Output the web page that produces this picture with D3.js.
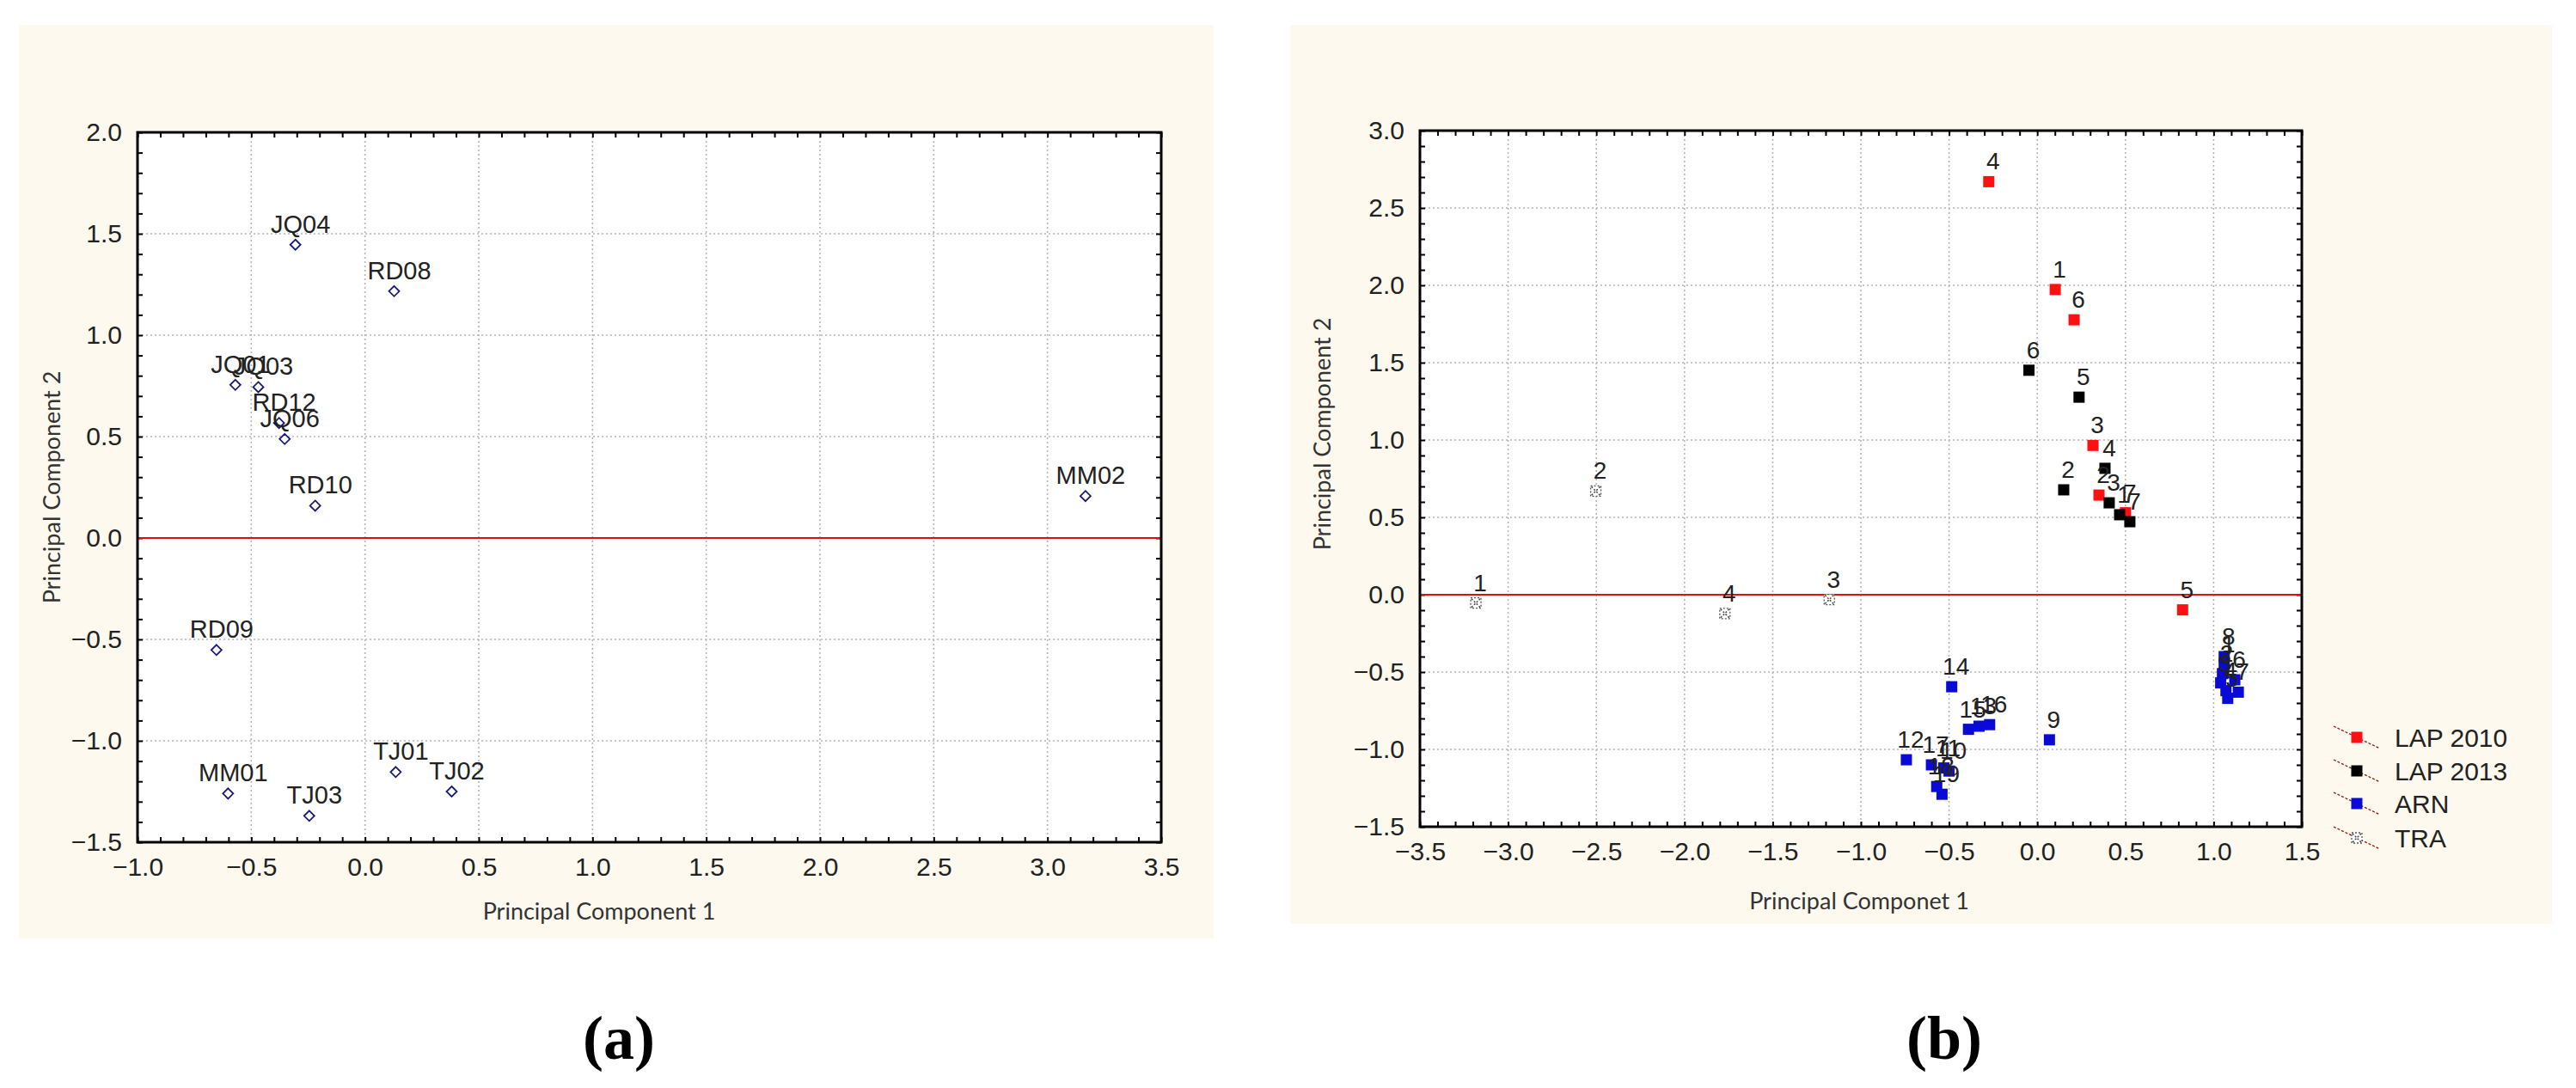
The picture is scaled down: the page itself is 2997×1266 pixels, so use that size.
<!DOCTYPE html>
<html><head><meta charset="utf-8">
<script src="https://cdn.jsdelivr.net/npm/d3@7"></script>
<style>body{margin:0;background:#fff}svg{display:block}</style>
</head><body>
<svg id="c" width="2997" height="1266"></svg>
<script>
// Panel (a)
const aNames = ["JQ04","RD08","JQ01","JQ03","RD12","JQ06","RD10","MM02","RD09","MM01","TJ03","TJ01","TJ02"];
const aPC1 = [-0.306,0.128,-0.570,-0.469,-0.378,-0.353,-0.219,3.167,-0.653,-0.602,-0.245,0.135,0.381];
const aPC2 = [1.446,1.217,0.755,0.744,0.567,0.488,0.159,0.207,-0.552,-1.260,-1.370,-1.154,-1.250];
const aXTicks = [-1.0,-0.5,0.0,0.5,1.0,1.5,2.0,2.5,3.0,3.5];
const aYTicks = [-1.5,-1.0,-0.5,0.0,0.5,1.0,1.5,2.0];

// Panel (b)
const bSeries = ["LAP 2010","LAP 2013","ARN","TRA"];
const lap2010Labels = ["1","2","3","4","5","6","7"];
const lap2010PC1 = [0.102,0.350,0.316,-0.275,0.824,0.209,0.500];
const lap2010PC2 = [1.973,0.644,0.965,2.670,-0.098,1.777,0.530];
const lap2013Labels = ["1","2","3","4","5","6","7"];
const lap2013PC1 = [0.467,0.150,0.408,0.384,0.237,-0.047,0.525];
const lap2013PC2 = [0.517,0.678,0.594,0.817,1.277,1.451,0.472];
const arnLabels = ["1","2","3","4","5","6","7","8","9","10","11","12","13","14","15","16","17","18","19"];
const arnPC1 = [1.06,1.05,1.04,1.07,1.08,1.12,1.14,1.06,0.069,-0.50,-0.53,-0.742,-0.33,-0.485,-0.39,-0.27,-0.60,-0.57,-0.54];
const arnPC2 = [-0.45,-0.51,-0.57,-0.62,-0.67,-0.55,-0.63,-0.40,-0.938,-1.14,-1.12,-1.067,-0.85,-0.595,-0.87,-0.84,-1.10,-1.24,-1.29];
const traLabels = ["1","2","3","4"];
const traPC1 = [-3.183,-2.503,-1.179,-1.771];
const traPC2 = [-0.054,0.670,-0.031,-0.121];
const bXTicks = [-3.5,-3.0,-2.5,-2.0,-1.5,-1.0,-0.5,0.0,0.5,1.0,1.5];
const bYTicks = [-1.5,-1.0,-0.5,0.0,0.5,1.0,1.5,2.0,2.5,3.0];

const svg = d3.select("#c");
const CREAM = "#fdf9ee";
const TXT = "#222";

function panel(o){
  const g = svg.append("g");
  g.append("rect").attr("x",o.frame[0]).attr("y",o.frame[1]).attr("width",o.frame[2]-o.frame[0]).attr("height",o.frame[3]-o.frame[1]).attr("fill",CREAM);
  const x = d3.scaleLinear().domain(o.xd).range([o.plot[0],o.plot[2]]);
  const y = d3.scaleLinear().domain(o.yd).range([o.plot[3],o.plot[1]]);
  g.append("rect").attr("x",o.plot[0]).attr("y",o.plot[1]).attr("width",o.plot[2]-o.plot[0]).attr("height",o.plot[3]-o.plot[1]).attr("fill","#fff");
  g.selectAll(null).data(o.xt).join("line").attr("x1",d=>x(d)).attr("x2",d=>x(d)).attr("y1",o.plot[1]).attr("y2",o.plot[3])
    .attr("stroke","#b5b5b5").attr("stroke-width",1.6).attr("stroke-dasharray","2,3");
  g.selectAll(null).data(o.yt).join("line").attr("y1",d=>y(d)).attr("y2",d=>y(d)).attr("x1",o.plot[0]).attr("x2",o.plot[2])
    .attr("stroke","#b5b5b5").attr("stroke-width",1.6).attr("stroke-dasharray","2,3");
  const minorX = d3.range(Math.round(o.xd[0]*10), Math.round(o.xd[1]*10)+1).map(v=>v/10);
  const minorY = d3.range(Math.round(o.yd[0]*10), Math.round(o.yd[1]*10)+1).map(v=>v/10);
  const fmt = d3.format(".1f");
  const tk = (ax)=>ax.tickSizeInner(-6).tickSizeOuter(0).tickPadding(18);
  const styleAx = sel=>{sel.select(".domain").remove();sel.selectAll("line").attr("stroke","#000").attr("stroke-width",2);
    sel.selectAll("text").attr("font-family","Liberation Sans, Arial, sans-serif").attr("font-size",30).attr("fill",TXT);};
  g.append("g").attr("transform",`translate(0,${o.plot[3]})`).call(tk(d3.axisBottom(x).tickValues(minorX).tickFormat(d=>o.xt.some(t=>Math.abs(t-d)<1e-9)?fmt(d):""))).call(styleAx);
  g.append("g").attr("transform",`translate(0,${o.plot[1]})`).call(tk(d3.axisTop(x).tickValues(minorX).tickFormat(""))).call(styleAx);
  g.append("g").attr("transform",`translate(${o.plot[0]},0)`).call(tk(d3.axisLeft(y).tickValues(minorY).tickFormat(d=>o.yt.some(t=>Math.abs(t-d)<1e-9)?fmt(d):""))).call(styleAx);
  g.append("g").attr("transform",`translate(${o.plot[2]},0)`).call(tk(d3.axisRight(y).tickValues(minorY).tickFormat(""))).call(styleAx);
  g.append("line").attr("x1",o.plot[0]).attr("x2",o.plot[2]).attr("y1",y(0)).attr("y2",y(0)).attr("stroke","#e01010").attr("stroke-width",2);
  g.append("rect").attr("x",o.plot[0]).attr("y",o.plot[1]).attr("width",o.plot[2]-o.plot[0]).attr("height",o.plot[3]-o.plot[1]).attr("fill","none").attr("stroke","#000").attr("stroke-width",3);
  g.append("text").attr("x",o.xtitle[0]).attr("y",o.xtitle[1]).attr("text-anchor","middle").attr("font-family","Lato, Open Sans, sans-serif").attr("font-size",27).attr("fill","#333").text(o.xlab);
  g.append("text").attr("transform",`translate(${o.ytitle[0]},${o.ytitle[1]}) rotate(-90)`).attr("text-anchor","middle").attr("font-family","Lato, Open Sans, sans-serif").attr("font-size",27).attr("fill","#333").text(o.ylab);
  g.append("text").attr("x",o.tag[0]).attr("y",o.tag[1]).attr("text-anchor","middle").attr("font-family","Liberation Serif, serif").attr("font-weight","bold").attr("font-size",72).attr("fill","#000").text(o.tagText);
  return {g,x,y};
}

const A = panel({frame:[22,29,1412,1092],plot:[160,154,1351,980],xd:[-1,3.5],yd:[-1.5,2],xt:aXTicks,yt:aYTicks,
  xlab:"Principal Component 1",ylab:"Principal Component 2",xtitle:[697,1070],ytitle:[70,567],tag:[720,1232],tagText:"(a)"});
const aData = aNames.map((n,i)=>({n,x:aPC1[i],y:aPC2[i]}));
A.g.selectAll(null).data(aData).join("path").attr("d",d=>{const cx=A.x(d.x),cy=A.y(d.y),r=6;return `M${cx},${cy-r}L${cx+r},${cy}L${cx},${cy+r}L${cx-r},${cy}Z`;})
  .attr("fill","#fff").attr("stroke","#1a1a7a").attr("stroke-width",1.8);
A.g.selectAll(null).data(aData).join("text").attr("x",d=>A.x(d.x)+6).attr("y",d=>A.y(d.y)-14).attr("text-anchor","middle")
  .attr("font-family","Liberation Sans, Arial, sans-serif").attr("font-size",29).attr("fill",TXT).text(d=>d.n);

const B = panel({frame:[1501,29,2969,1075],plot:[1652,152,2678,962],xd:[-3.5,1.5],yd:[-1.5,3],xt:bXTicks,yt:bYTicks,
  xlab:"Principal Componet 1",ylab:"Principal Component 2",xtitle:[2163,1058],ytitle:[1548,505],tag:[2262,1232],tagText:"(b)"});
const bGroups = [
  {s:bSeries[0],color:"#ff1010",labels:lap2010Labels,xs:lap2010PC1,ys:lap2010PC2},
  {s:bSeries[1],color:"#000",labels:lap2013Labels,xs:lap2013PC1,ys:lap2013PC2},
  {s:bSeries[2],color:"#0a0ad8",labels:arnLabels,xs:arnPC1,ys:arnPC2},
  {s:bSeries[3],color:"tra",labels:traLabels,xs:traPC1,ys:traPC2}];
function marker(sel,color,cx,cy){
  if(color==="tra"){
    sel.append("rect").attr("x",cx-6).attr("y",cy-6).attr("width",12).attr("height",12).attr("fill","#fff").attr("stroke","#555").attr("stroke-width",1.3).attr("stroke-dasharray","2,2");
    sel.append("path").attr("d",`M${cx-5},${cy-5}L${cx+5},${cy+5}M${cx+5},${cy-5}L${cx-5},${cy+5}`).attr("stroke","#444").attr("stroke-width",1.5).attr("stroke-dasharray","2,2");
  } else {
    sel.append("rect").attr("x",cx-6.5).attr("y",cy-6.5).attr("width",13).attr("height",13).attr("fill",color);
  }
}
const order=[3,2,0,1];
order.forEach(k=>{
  const G=bGroups[k];
  G.xs.forEach((v,i)=>marker(B.g,G.color,B.x(v),B.y(G.ys[i])));
});
order.forEach(k=>{
  const G=bGroups[k];
  B.g.selectAll(null).data(G.labels.map((l,i)=>({l,x:G.xs[i],y:G.ys[i]}))).join("text")
    .attr("x",d=>B.x(d.x)+5).attr("y",d=>B.y(d.y)-14).attr("text-anchor","middle")
    .attr("font-family","Liberation Sans, Arial, sans-serif").attr("font-size",28).attr("fill",TXT).text(d=>d.l);
});
const legY=[858,897,935,975];
bGroups.forEach((G,i)=>{
  const cx=2742, cy=legY[i];
  B.g.append("line").attr("x1",cx-27).attr("y1",cy-13).attr("x2",cx+27).attr("y2",cy+13).attr("stroke","#8b1a1a").attr("stroke-width",1.3).attr("stroke-dasharray","3,2");
  marker(B.g,G.color,cx,cy);
  B.g.append("text").attr("x",2786).attr("y",cy+11).attr("font-family","Liberation Sans, Arial, sans-serif").attr("font-size",30).attr("fill",TXT).text(G.s);
});
</script>
</body></html>
